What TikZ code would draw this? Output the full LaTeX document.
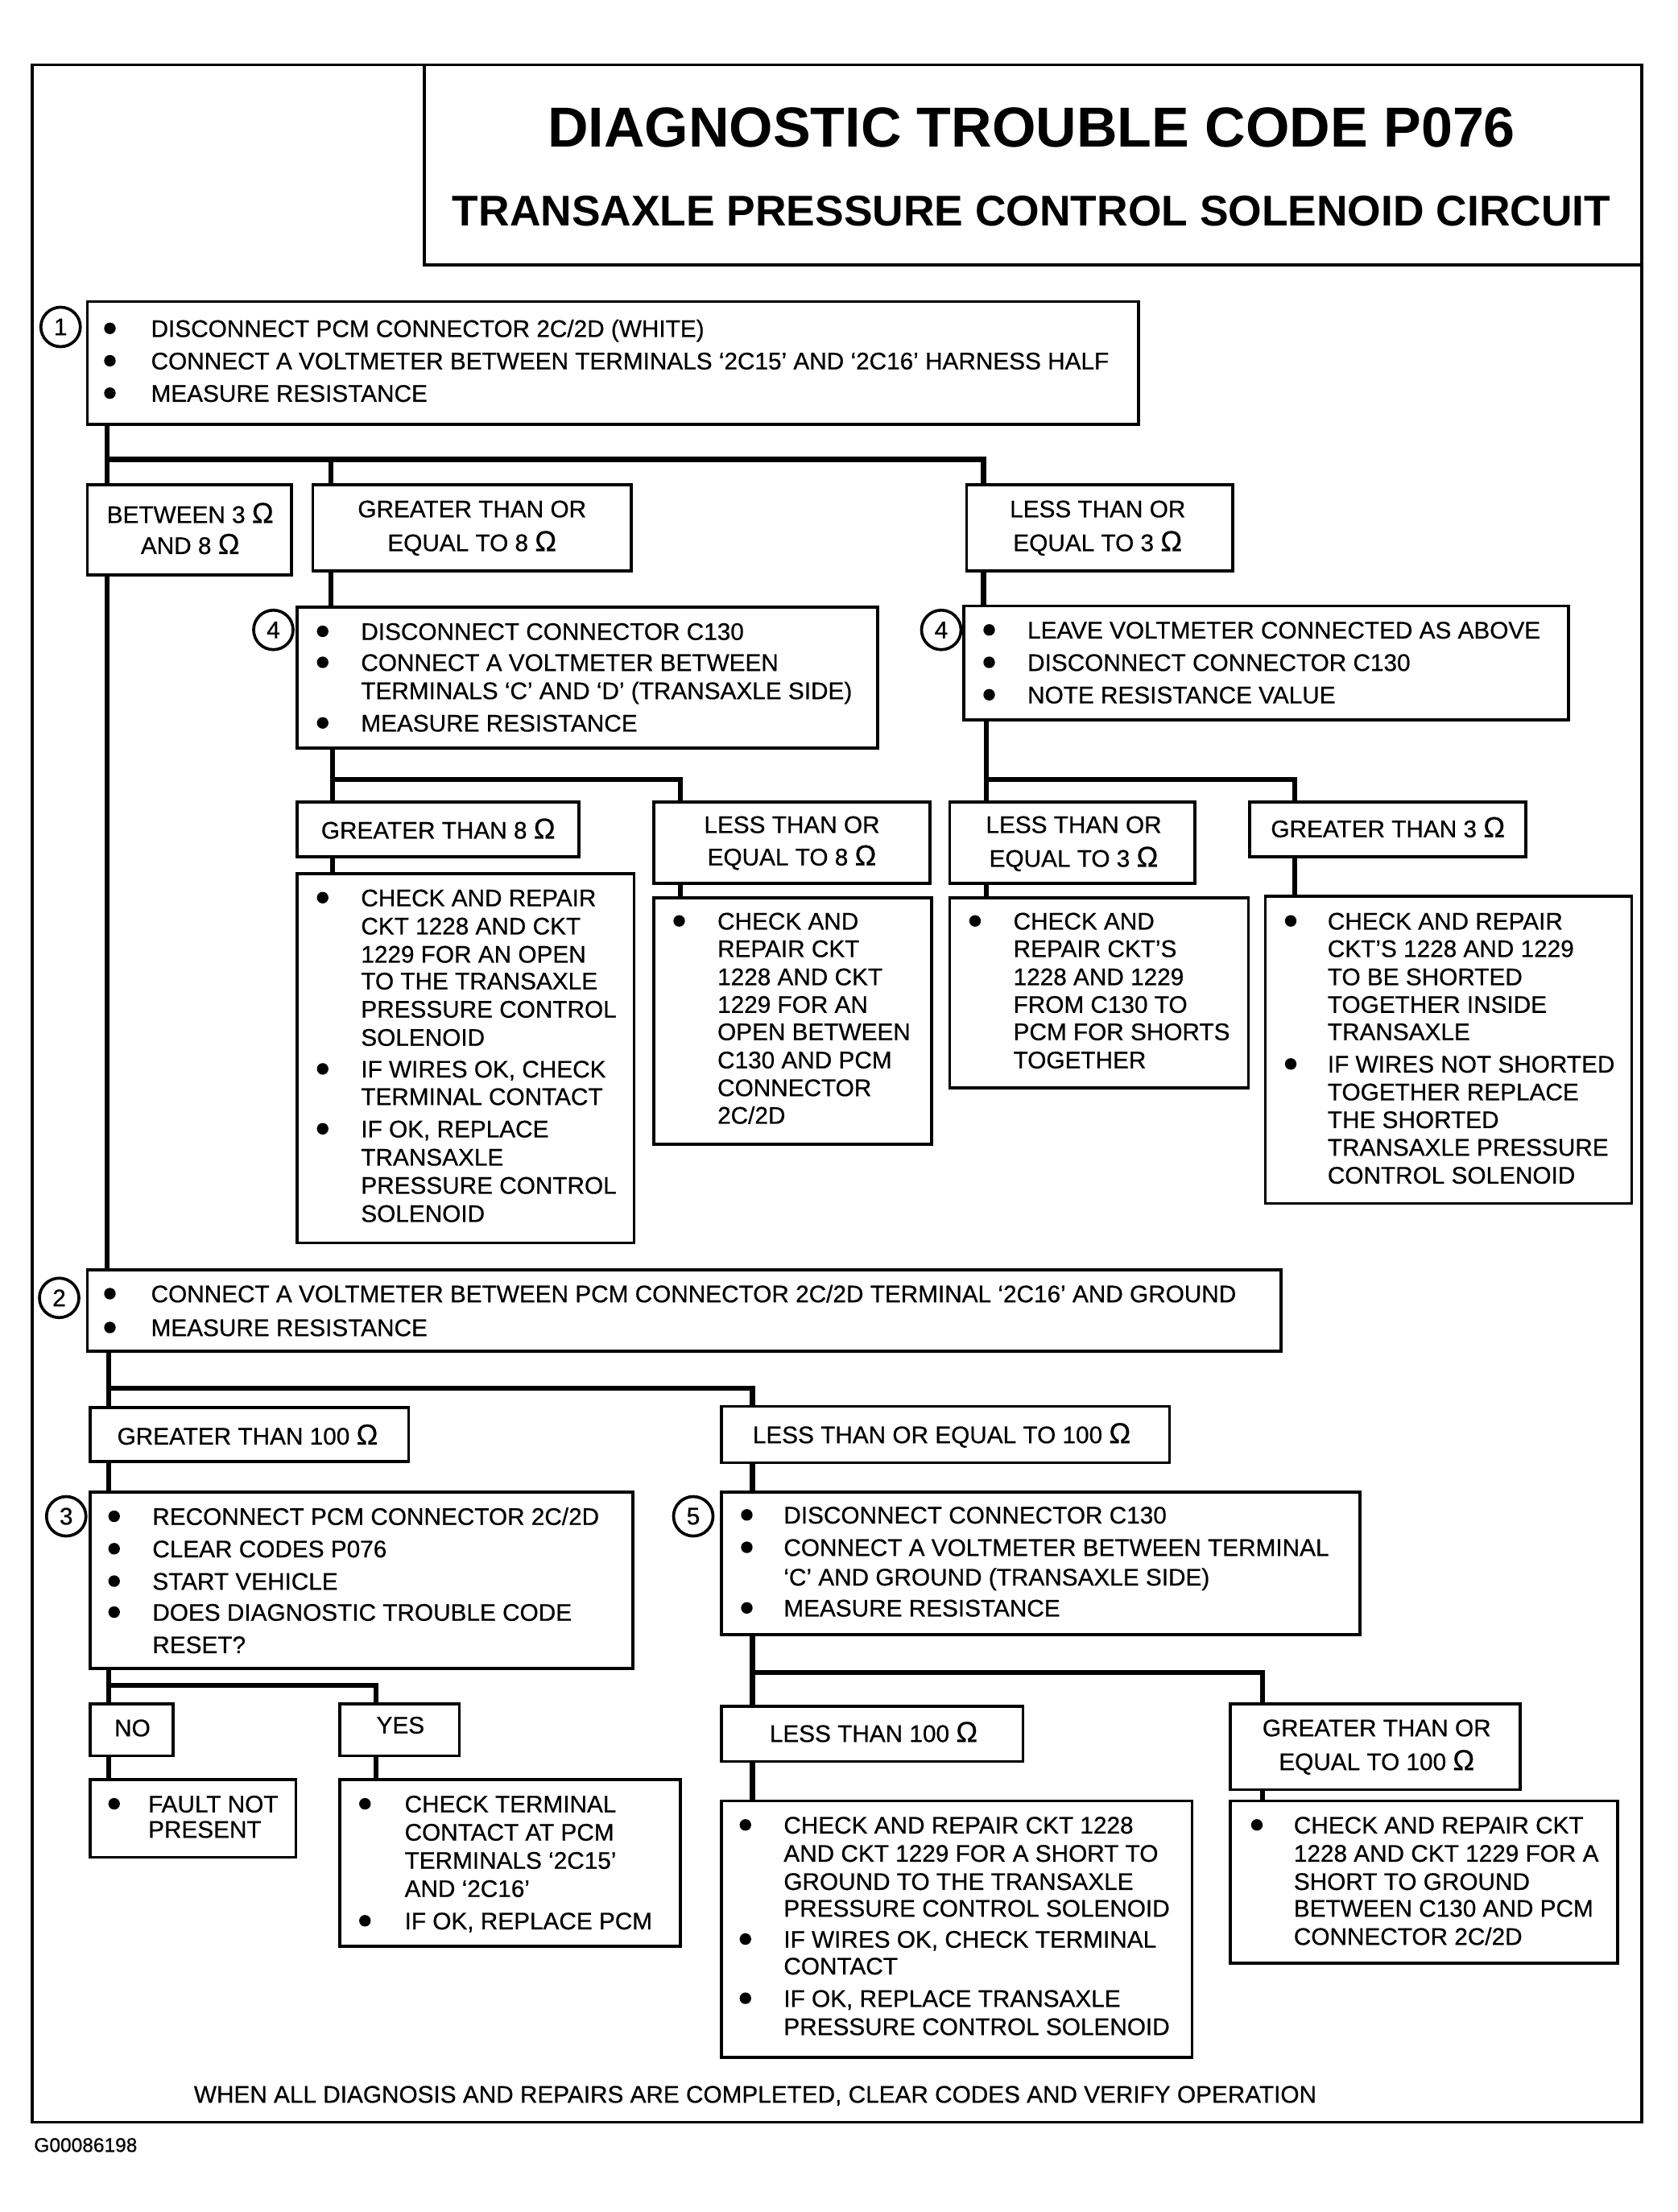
\documentclass[tikz,border=0pt]{standalone}
\usepackage{fontspec}
\setmainfont{Liberation Sans}[FakeBold=0.6]
\newfontfamily\titlefont{Liberation Sans}
\newcount\tcnt
\tikzset{
 box/.style={draw, line width=2.1pt, rectangle, inner sep=0pt, outer sep=0pt, anchor=north west},
 conn/.style={line width=3.6pt},
 txt/.style={anchor=base west, inner sep=0pt, font=\fontsize{17}{20}\selectfont},
 ctxt/.style={anchor=base, inner sep=0pt, font=\fontsize{17}{20}\selectfont},
 num/.style={draw, circle, line width=2.1pt, minimum size=28pt, inner sep=0pt, font=\fontsize{17}{17}\selectfont},
}
\newcommand\ohm{{\fontsize{20.5}{20}\selectfont Ω}}
\newcommand\bx[5]{\node[box, minimum width={#4-#2}, minimum height={#5-#3}] (#1) at (#2,#3) {};}
\newcommand\tl[3]{\global\advance\tcnt by 1 \node[txt] (t\the\tcnt) at (#1,#2+6.1) {#3};}
\newcommand\tc[3]{\global\advance\tcnt by 1 \node[ctxt] (t\the\tcnt) at (#1,#2+6.1) {#3};}
\newcommand\bu[2]{\fill (#1,#2) circle (4.1);}
\begin{document}
\begin{tikzpicture}[x=1pt,y=-1pt]
\useasboundingbox (0,0) rectangle (1190.3,1569.7);
% outer frame
\node[box, line width=2.2pt, minimum width=1142, minimum height=1460] (frame) at (23,46) {};
% title
\bx{title}{301}{46}{1165}{188}
\node[anchor=base, inner sep=0pt, font=\titlefont\bfseries\fontsize{40}{40}\selectfont] (title1) at (732,104.3) {DIAGNOSTIC TROUBLE CODE P076};
\node[anchor=base, inner sep=0pt, font=\titlefont\bfseries\fontsize{30.5}{30.5}\selectfont] (title2) at (732,160.4) {TRANSAXLE PRESSURE CONTROL SOLENOID CIRCUIT};

% boxes
\bx{b1}{62}{214}{808}{301}
\bx{bBW}{62}{344}{207}{408}
\bx{bGE8}{222}{344}{448}{405}
\bx{bLE3}{686}{344}{875}{405}
\bx{b4L}{211}{431}{623}{531}
\bx{b4R}{684}{430}{1113}{511}
\bx{bG8}{211}{569}{411}{608}
\bx{bL8}{464}{569}{660}{627}
\bx{bG8d}{211}{620}{450}{882}
\bx{bL8d}{464}{637}{661}{812}
\bx{bL3}{674}{569}{848}{627}
\bx{bL3d}{674}{637}{886}{772}
\bx{bG3}{887}{569}{1083}{608}
\bx{bG3d}{898}{636}{1158}{854}
\bx{b2}{62}{901}{909}{959}
\bx{bG100}{64}{999}{290}{1037}
\bx{bL100}{512}{998}{830}{1038}
\bx{b3}{64}{1059}{449}{1184}
\bx{b5}{512}{1059}{965}{1160}
\bx{bNO}{64}{1209}{123}{1246}
\bx{bYES}{241}{1209}{326}{1246}
\bx{bF}{64}{1263}{210}{1318}
\bx{bYd}{241}{1263}{483}{1381}
\bx{bLT}{512}{1211}{726}{1250}
\bx{bGE}{873}{1209}{1079}{1270}
\bx{bLTd}{512}{1278}{846}{1460}
\bx{bGEd}{873}{1278}{1148}{1393}

% step circles
\node[num] (c1) at (43,232) {1};
\node[num] (c4a) at (194,447) {4};
\node[num] (c4b) at (668,447) {4};
\node[num] (c2) at (42,921) {2};
\node[num] (c3) at (47,1076) {3};
\node[num] (c5) at (492,1076) {5};

% junctions
\coordinate (j1) at (76,326);
\coordinate (j2) at (698,326);
\coordinate (j3) at (235,326);
\coordinate (j4) at (236,553);
\coordinate (j5) at (483,553);
\coordinate (j6) at (700,553);
\coordinate (j7) at (919,553);
\coordinate (j8) at (77,985);
\coordinate (j9) at (534,985);
\coordinate (j10) at (77,1196);
\coordinate (j11) at (267,1196);
\coordinate (j12) at (534,1187);
\coordinate (j13) at (896,1187);

% connectors
\draw[conn] (b1.south -| j1) -- (bBW.north -| j1);
\draw[conn] (j1) -| (bLE3.north -| j2);
\draw[conn] (j3) -- (bGE8.north -| j3);
\draw[conn] (bBW.south -| j1) -- (b2.north -| j1);
\draw[conn] (bGE8.south -| j3) -- (b4L.north -| j3);
\draw[conn] (bLE3.south -| j2) -- (b4R.north -| j2);
\draw[conn] (b4L.south -| j4) -- (bG8.north -| j4);
\draw[conn] (j4) -| (bL8.north -| j5);
\draw[conn] (bG8.south -| j4) -- (bG8d.north -| j4);
\draw[conn] (bL8.south -| j5) -- (bL8d.north -| j5);
\draw[conn] (b4R.south -| j6) -- (bL3.north -| j6);
\draw[conn] (j6) -| (bG3.north -| j7);
\draw[conn] (bL3.south -| j6) -- (bL3d.north -| j6);
\draw[conn] (bG3.south -| j7) -- (bG3d.north -| j7);
\draw[conn] (b2.south -| j8) -- (bG100.north -| j8);
\draw[conn] (j8) -| (bL100.north -| j9);
\draw[conn] (bG100.south -| j8) -- (b3.north -| j8);
\draw[conn] (bL100.south -| j9) -- (b5.north -| j9);
\draw[conn] (b3.south -| j10) -- (bNO.north -| j10);
\draw[conn] (j10) -| (bYES.north -| j11);
\draw[conn] (bNO.south -| j10) -- (bF.north -| j10);
\draw[conn] (bYES.south -| j11) -- (bYd.north -| j11);
\draw[conn] (b5.south -| j12) -- (bLT.north -| j12);
\draw[conn] (j12) -| (bGE.north -| j13);
\draw[conn] (bLT.south -| j12) -- (bLTd.north -| j12);
\draw[conn] (bGE.south -| j13) -- (bGEd.north -| j13);

% box 1
\bu{78}{233}\tl{107}{233}{DISCONNECT PCM CONNECTOR 2C/2D (WHITE)}
\bu{78}{256}\tl{107}{256}{CONNECT A VOLTMETER BETWEEN TERMINALS ‘2C15’ AND ‘2C16’ HARNESS HALF}
\bu{78}{279}\tl{107}{279}{MEASURE RESISTANCE}

% branch labels
\tc{135}{365}{BETWEEN 3 \ohm}
\tc{135}{387}{AND 8 \ohm}
\tc{335}{361}{GREATER THAN OR}
\tc{335}{385}{EQUAL TO 8 \ohm}
\tc{779}{361}{LESS THAN OR}
\tc{779}{385}{EQUAL TO 3 \ohm}

% box 4 left
\bu{229}{448}\tl{256}{448}{DISCONNECT CONNECTOR C130}
\bu{229}{470}\tl{256}{470}{CONNECT A VOLTMETER BETWEEN}
\tl{256}{490}{TERMINALS ‘C’ AND ‘D’ (TRANSAXLE SIDE)}
\bu{229}{513}\tl{256}{513}{MEASURE RESISTANCE}

% box 4 right
\bu{702}{447}\tl{729}{447}{LEAVE VOLTMETER CONNECTED AS ABOVE}
\bu{702}{470}\tl{729}{470}{DISCONNECT CONNECTOR C130}
\bu{702}{493}\tl{729}{493}{NOTE RESISTANCE VALUE}

% level 3 labels
\tc{311}{589}{GREATER THAN 8 \ohm}
\tc{562}{585}{LESS THAN OR}
\tc{562}{608}{EQUAL TO 8 \ohm}
\tc{762}{585}{LESS THAN OR}
\tc{762}{609}{EQUAL TO 3 \ohm}
\tc{985}{588}{GREATER THAN 3 \ohm}

% G8 detail
\bu{229}{637}\tl{256}{637}{CHECK AND REPAIR}
\tl{256}{657}{CKT 1228 AND CKT}
\tl{256}{677}{1229 FOR AN OPEN}
\tl{256}{696}{TO THE TRANSAXLE}
\tl{256}{716}{PRESSURE CONTROL}
\tl{256}{736}{SOLENOID}
\bu{229}{758.5}\tl{256}{758.5}{IF WIRES OK, CHECK}
\tl{256}{778}{TERMINAL CONTACT}
\bu{229}{801}\tl{256}{801}{IF OK, REPLACE}
\tl{256}{821}{TRANSAXLE}
\tl{256}{841}{PRESSURE CONTROL}
\tl{256}{861}{SOLENOID}

% L8 detail
\bu{482}{653.5}\tl{509}{653.5}{CHECK AND}
\tl{509}{673}{REPAIR CKT}
\tl{509}{693}{1228 AND CKT}
\tl{509}{712.6}{1229 FOR AN}
\tl{509}{732}{OPEN BETWEEN}
\tl{509}{752}{C130 AND PCM}
\tl{509}{771.7}{CONNECTOR}
\tl{509}{791.3}{2C/2D}

% L3 detail
\bu{692}{653.5}\tl{719}{653.5}{CHECK AND}
\tl{719}{673}{REPAIR CKT’S}
\tl{719}{693}{1228 AND 1229}
\tl{719}{712.6}{FROM C130 TO}
\tl{719}{732}{PCM FOR SHORTS}
\tl{719}{752}{TOGETHER}

% G3 detail
\bu{916}{653.5}\tl{942}{653.5}{CHECK AND REPAIR}
\tl{942}{673}{CKT’S 1228 AND 1229}
\tl{942}{693}{TO BE SHORTED}
\tl{942}{712.6}{TOGETHER INSIDE}
\tl{942}{732}{TRANSAXLE}
\bu{916}{755}\tl{942}{755}{IF WIRES NOT SHORTED}
\tl{942}{774.7}{TOGETHER REPLACE}
\tl{942}{794.4}{THE SHORTED}
\tl{942}{814}{TRANSAXLE PRESSURE}
\tl{942}{833.8}{CONTROL SOLENOID}

% box 2
\bu{78}{918}\tl{107}{918}{CONNECT A VOLTMETER BETWEEN PCM CONNECTOR 2C/2D TERMINAL ‘2C16’ AND GROUND}
\bu{78}{942}\tl{107}{942}{MEASURE RESISTANCE}

\tl{83}{1019}{GREATER THAN 100 \ohm}
\tl{534}{1018}{LESS THAN OR EQUAL TO 100 \ohm}

% box 3
\bu{81}{1076}\tl{108}{1076}{RECONNECT PCM CONNECTOR 2C/2D}
\bu{81}{1099}\tl{108}{1099}{CLEAR CODES P076}
\bu{81}{1122}\tl{108}{1122}{START VEHICLE}
\bu{81}{1144}\tl{108}{1144}{DOES DIAGNOSTIC TROUBLE CODE}
\tl{108}{1167}{RESET?}

% box 5
\bu{530}{1075}\tl{556}{1075}{DISCONNECT CONNECTOR C130}
\bu{530}{1098}\tl{556}{1098}{CONNECT A VOLTMETER BETWEEN TERMINAL}
\tl{556}{1119}{‘C’ AND GROUND (TRANSAXLE SIDE)}
\bu{530}{1141}\tl{556}{1141}{MEASURE RESISTANCE}

\tl{81}{1226}{NO}
\tl{267}{1224}{YES}
\tc{620}{1230}{LESS THAN 100 \ohm}
\tc{977}{1226}{GREATER THAN OR}
\tc{977}{1250}{EQUAL TO 100 \ohm}

% fault
\bu{81}{1280}\tl{105}{1280}{FAULT NOT}
\tl{105}{1298}{PRESENT}

% yes detail
\bu{259}{1280}\tl{287}{1280}{CHECK TERMINAL}
\tl{287}{1300}{CONTACT AT PCM}
\tl{287}{1320}{TERMINALS ‘2C15’}
\tl{287}{1340}{AND ‘2C16’}
\bu{259}{1363}\tl{287}{1363}{IF OK, REPLACE PCM}

% LT100 detail
\bu{529}{1295}\tl{556}{1295}{CHECK AND REPAIR CKT 1228}
\tl{556}{1315}{AND CKT 1229 FOR A SHORT TO}
\tl{556}{1335}{GROUND TO THE TRANSAXLE}
\tl{556}{1354}{PRESSURE CONTROL SOLENOID}
\bu{529}{1376}\tl{556}{1376}{IF WIRES OK, CHECK TERMINAL}
\tl{556}{1395}{CONTACT}
\bu{529}{1418}\tl{556}{1418}{IF OK, REPLACE TRANSAXLE}
\tl{556}{1438}{PRESSURE CONTROL SOLENOID}

% GE100 detail
\bu{892}{1295}\tl{918}{1295}{CHECK AND REPAIR CKT}
\tl{918}{1315}{1228 AND CKT 1229 FOR A}
\tl{918}{1335}{SHORT TO GROUND}
\tl{918}{1354}{BETWEEN C130 AND PCM}
\tl{918}{1374}{CONNECTOR 2C/2D}

% footer
\tc{536}{1486}{WHEN ALL DIAGNOSIS AND REPAIRS ARE COMPLETED, CLEAR CODES AND VERIFY OPERATION}
\node[anchor=base west, inner sep=0pt, font=\fontsize{14}{14}\selectfont] (gid) at (24,1527) {G00086198};
\end{tikzpicture}
\end{document}
